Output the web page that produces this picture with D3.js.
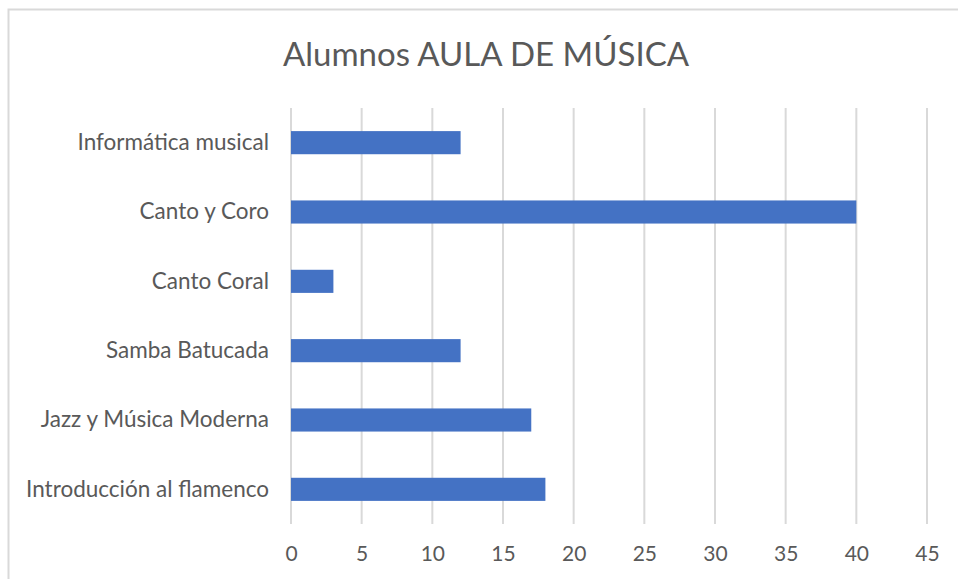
<!DOCTYPE html>
<html>
<head>
<meta charset="utf-8">
<script src="https://cdn.jsdelivr.net/npm/d3@7"></script>
<style>
  body { margin: 0; background: #fff; }
  text { font-family: Lato, "Open Sans", sans-serif; fill: #595959; }
</style>
</head>
<body>
<svg id="chart" width="958" height="579"></svg>
<script>
// Alumnos por curso
const categories = ['Informática musical', 'Canto y Coro', 'Canto Coral', 'Samba Batucada', 'Jazz y Música Moderna', 'Introducción al flamenco']
const alumnos = [12, 40, 3, 12, 17, 18]
const xTicks = [0, 5, 10, 15, 20, 25, 30, 35, 40, 45]
const title = 'Alumnos AULA DE MÚSICA'

const svg = d3.select('#chart')

// marco del gráfico
svg.append('rect')
  .attr('x', 8.5).attr('y', 9.5)
  .attr('width', 960).attr('height', 580)
  .attr('fill', 'none')
  .attr('stroke', '#d9d9d9')
  .attr('stroke-width', 2)

const plotLeft = 291, plotRight = 927, plotTop = 108, plotBottom = 524

const xScale = d3.scaleLinear().domain([0, 45]).range([plotLeft, plotRight])
const yScale = d3.scaleBand().domain(categories).range([plotTop, plotBottom])
  .paddingInner(2 / 3).paddingOuter(1 / 3)

// líneas de división verticales
svg.append('g')
  .selectAll('line')
  .data(xTicks)
  .enter()
  .append('line')
  .attr('x1', d => xScale(d)).attr('x2', d => xScale(d))
  .attr('y1', plotTop).attr('y2', plotBottom)
  .attr('stroke', '#d9d9d9')
  .attr('stroke-width', 2)

// barras
svg.append('g')
  .selectAll('rect')
  .data(categories)
  .enter()
  .append('rect')
  .attr('x', xScale(0))
  .attr('y', d => yScale(d))
  .attr('width', (d, i) => xScale(alumnos[i]) - xScale(0))
  .attr('height', yScale.bandwidth())
  .attr('fill', '#4472c4')

// eje x
const xAxis = svg.append('g')
  .attr('transform', `translate(0, ${plotBottom})`)
  .call(d3.axisBottom(xScale).tickValues(xTicks).tickSize(0).tickPadding(22))
xAxis.select('.domain').remove()
xAxis.selectAll('text')
  .attr('fill', '#595959')
  .style('font-size', '21px')
  .style('font-family', 'Lato, sans-serif')

// eje y
const yAxis = svg.append('g')
  .attr('transform', `translate(${plotLeft - 22}, 0)`)
  .call(d3.axisLeft(yScale).tickSize(0).tickPadding(0))
yAxis.select('.domain').remove()
yAxis.selectAll('text')
  .attr('fill', '#595959')
  .style('font-size', '22.5px')
  .style('font-family', 'Lato, sans-serif')

// título
svg.append('text')
  .attr('x', 486)
  .attr('y', 66)
  .attr('text-anchor', 'middle')
  .style('font-size', '33px')
  .text(title)
</script>
</body>
</html>
